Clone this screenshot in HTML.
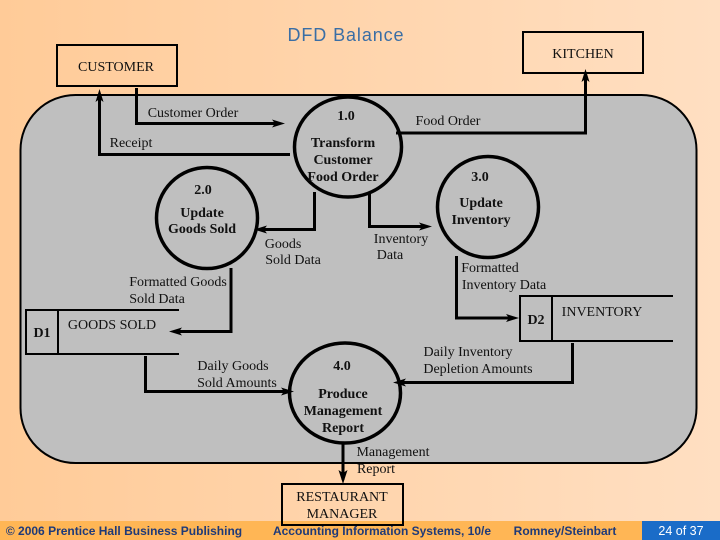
<!DOCTYPE html>
<html><head><meta charset="utf-8"><style>
html,body{margin:0;padding:0;width:720px;height:540px;overflow:hidden}
svg{display:block}
text{font-family:"Liberation Serif",serif;font-size:14px;fill:#111;text-anchor:middle}
.b{font-weight:bold}
.f{font-family:"Liberation Sans",sans-serif;font-weight:bold;font-size:12px;fill:#1f3a78}
</style></head><body>
<svg width="720" height="540" viewBox="0 0 720 540" xmlns="http://www.w3.org/2000/svg">
<defs><linearGradient id="g" x1="0" x2="1" y1="0" y2="0"><stop offset="0" stop-color="#ffcb98"/><stop offset="1" stop-color="#ffdfc2"/></linearGradient></defs>
<rect width="720" height="540" fill="url(#g)"/>
<rect x="0" y="521" width="642" height="19" fill="#ffb655"/>
<rect x="642" y="521" width="78" height="19" fill="#1a6cc8"/>
<text x="346" y="41" style="font-family:'Liberation Sans',sans-serif;font-size:18px;fill:#3a6ea5;letter-spacing:.9px">DFD Balance</text>
<rect x="20.5" y="95" width="676" height="368" rx="55" ry="55" fill="#bfbfbf" stroke="#000" stroke-width="2"/>

<g fill="none" stroke="#000">
<rect x="57" y="45" width="120" height="41" stroke-width="2"/>
<rect x="523" y="32" width="120" height="41" stroke-width="2"/>
<rect x="282" y="484" width="121" height="41" stroke-width="2" />
<ellipse cx="348" cy="147" rx="53.500" ry="50" stroke-width="3.500"/>
<circle cx="207" cy="218" r="50.500" stroke-width="3.500"/>
<circle cx="488" cy="207" r="50.500" stroke-width="3.500"/>
<ellipse cx="345" cy="393" rx="55.500" ry="50" stroke-width="3.500"/>

<g stroke-width="3">
<path d="M136.500 88V123.500H278"/>
<path d="M290 154.500H99.500V96"/>
<path d="M396 133H585.500V78"/>
<path d="M314.500 192V229.500H262"/>
<path d="M369.500 193V226.500H425"/>
<path d="M231 268V331.500H178"/>
<path d="M456.500 256V318H512"/>
<path d="M145.500 356V391.500H290"/>
<path d="M572.500 343V382.500H400"/>
<path d="M343 444V480"/>
</g>
<g stroke-width="2">
<path d="M179 310H26V354H179"/>
<path d="M58 310V354"/>
<path d="M673 296H520V341H673"/>
<path d="M552 296V341"/>
</g>
</g>
<g fill="#000">
<path d="M285 123.500L272 119.500L275 123.500L272 127.500Z"/>
<path d="M99.500 89L95.500 102L99.500 99L103.500 102Z"/>
<path d="M585.500 69L581.500 82L585.500 79L589.500 82Z"/>
<path d="M254 229.500L267 225.500L264 229.500L267 233.500Z"/>
<path d="M432 226.500L419 222.500L422 226.500L419 230.500Z"/>
<path d="M169 331.500L182 327.500L179 331.500L182 335.500Z"/>
<path d="M519 318L506 314L509 318L506 322Z"/>
<path d="M294 391.500L281 387.500L284 391.500L281 395.500Z"/>
<path d="M393 382.500L406 378.500L403 382.500L406 386.500Z"/>
<path d="M343 484L338.500 470L343 473L347.500 470Z"/>
</g>

<text x="116" y="71">CUSTOMER</text>
<text x="583" y="58">KITCHEN</text>
<text x="193" y="117">Customer Order</text>
<text x="131" y="147">Receipt</text>
<text x="448" y="125">Food Order</text>
<text class="b" x="346" y="120">1.0</text>
<text class="b" x="343" y="147">Transform</text>
<text class="b" x="343" y="164">Customer</text>
<text class="b" x="343" y="181">Food Order</text>
<text class="b" x="203" y="194">2.0</text>
<text class="b" x="202" y="217">Update</text>
<text class="b" x="202" y="233">Goods Sold</text>
<text class="b" x="480" y="181">3.0</text>
<text class="b" x="481" y="207">Update</text>
<text class="b" x="481" y="224">Inventory</text>
<text class="b" x="342" y="370">4.0</text>
<text class="b" x="343" y="398">Produce</text>
<text class="b" x="343" y="415">Management</text>
<text class="b" x="343" y="432">Report</text>
<text class="b" x="42" y="337">D1</text>
<text class="b" x="536" y="324">D2</text>
<text x="283" y="248">Goods</text>
<text x="293" y="264">Sold Data</text>
<text x="401" y="243">Inventory</text>
<text x="390" y="259">Data</text>
<text x="490" y="272">Formatted</text>
<text x="504" y="289">Inventory Data</text>
<text x="178" y="286">Formatted Goods</text>
<text x="157" y="303">Sold Data</text>
<text x="112" y="329">GOODS SOLD</text>
<text x="602" y="316">INVENTORY</text>
<text x="233" y="370">Daily Goods</text>
<text x="237" y="387">Sold Amounts</text>
<text x="468" y="356">Daily Inventory</text>
<text x="478" y="373">Depletion Amounts</text>
<text x="393" y="456">Management</text>
<text x="376" y="473">Report</text>
<text x="342" y="501">RESTAURANT</text>
<text x="342" y="518">MANAGER</text>
<text class="f" x="124" y="535">© 2006 Prentice Hall Business Publishing</text>
<text class="f" x="382" y="535">Accounting Information Systems, 10/e</text>
<text class="f" x="565" y="535">Romney/Steinbart</text>
<text x="681" y="535" style="font-family:'Liberation Sans',sans-serif;font-size:12.5px;fill:#fff">24 of 37</text>
</svg>
</body></html>
